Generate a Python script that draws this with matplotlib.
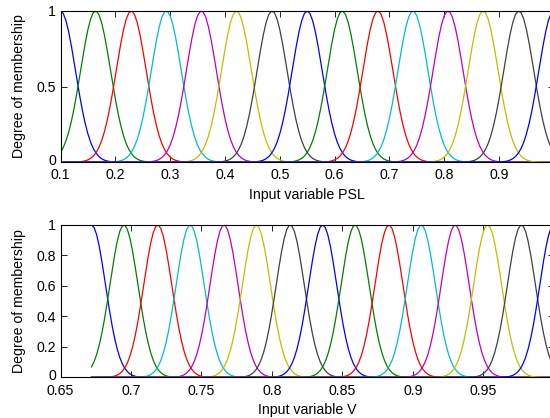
import numpy as np
import matplotlib.pyplot as plt
import matplotlib.transforms as mtransforms

# =========================
# Membership function data (gaussian MFs)
# =========================
psl_range = [0.1, 1.0]
psl_centers = [0.100, 0.164, 0.229, 0.293, 0.357, 0.421, 0.486, 0.550,
               0.614, 0.679, 0.743, 0.807, 0.871, 0.936, 1.000]
psl_sigma = 0.0273

v_range = [0.672, 1.0]
v_centers = [0.672, 0.695, 0.719, 0.742, 0.766, 0.789, 0.813, 0.836,
             0.859, 0.883, 0.906, 0.930, 0.953, 0.977, 1.000]
v_sigma = 0.00995

# the "1" at the right end falls outside the (cropped) picture
psl_xticks = [0.1, 0.2, 0.3, 0.4, 0.5, 0.6, 0.7, 0.8, 0.9, 1.0]
psl_xticklabels = ["0.1", "0.2", "0.3", "0.4", "0.5", "0.6", "0.7", "0.8", "0.9", ""]
psl_yticks = [0, 0.5, 1]
psl_yticklabels = ["0", "0.5", "1"]

v_xticks = [0.65, 0.7, 0.75, 0.8, 0.85, 0.9, 0.95, 1.0]
v_xticklabels = ["0.65", "0.7", "0.75", "0.8", "0.85", "0.9", "0.95", ""]
v_yticks = [0, 0.2, 0.4, 0.6, 0.8, 1]
v_yticklabels = ["0", "0.2", "0.4", "0.6", "0.8", "1"]

# old MATLAB colour order b g r c m y k
COLORS = [(0, 0, 1), (0, 0.5, 0), (1, 0, 0), (0, 0.75, 0.75),
          (0.75, 0, 0.75), (0.75, 0.75, 0), (0.25, 0.25, 0.25)]

plt.rcParams["font.family"] = ["Liberation Sans", "DejaVu Sans"]
plt.rcParams["font.size"] = 10.2


def plot_mfs(fig, ax, xr, centers, sigma, xticks, xtl, yticks, ytl, xlabel):
    x = np.linspace(xr[0], xr[1], 181)
    for i, c in enumerate(centers):
        y = np.exp(-((x - c) ** 2) / (2 * sigma ** 2))
        ax.plot(x, y, color=COLORS[i % len(COLORS)], linewidth=0.9)
    ax.set_xlim(xticks[0], 1.0)
    ax.set_ylim(0, 1)
    ax.set_xticks(xticks)
    ax.set_xticklabels(xtl)
    ax.set_yticks(yticks)
    ax.set_yticklabels(ytl)
    ax.tick_params(direction="in", top=True, right=True, length=4, width=0.6)
    ax.tick_params(axis="x", pad=4.5)
    ax.tick_params(axis="y", pad=3)
    # lift the "0" a touch so it clears the first x tick label
    lbl = ax.get_yticklabels()[0]
    lbl.set_transform(lbl.get_transform() +
                      mtransforms.ScaledTranslation(0, 2 / 72, fig.dpi_scale_trans))
    for s in ax.spines.values():
        s.set_linewidth(0.8)
    ax.set_xlabel(xlabel, labelpad=4)
    ax.set_ylabel("Degree of membership")
    ax.yaxis.set_label_coords(-0.07, 0.5)


fig = plt.figure(figsize=(5.5, 4.18), dpi=100)
ax1 = fig.add_axes([0.110, 0.612, 0.897, 0.362])
ax2 = fig.add_axes([0.110, 0.097, 0.897, 0.365])

plot_mfs(fig, ax1, psl_range, psl_centers, psl_sigma, psl_xticks, psl_xticklabels,
         psl_yticks, psl_yticklabels, "Input variable PSL")
plot_mfs(fig, ax2, v_range, v_centers, v_sigma, v_xticks, v_xticklabels,
         v_yticks, v_yticklabels, "Input variable V")

fig.savefig("out.png", dpi=100)
